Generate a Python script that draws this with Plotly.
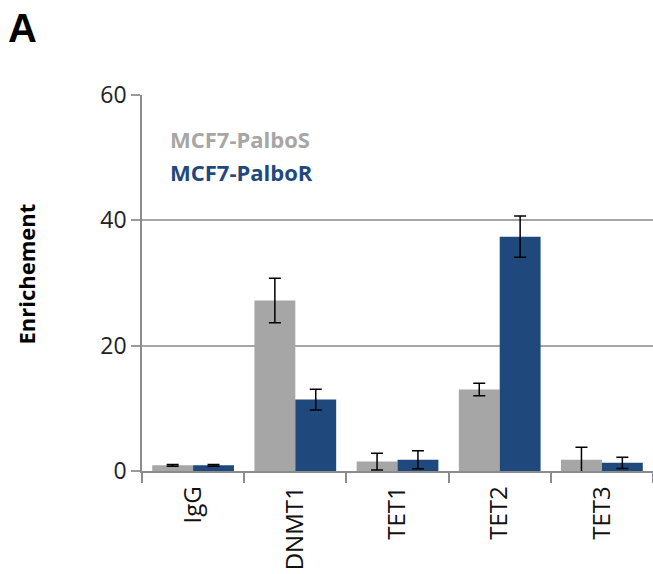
import plotly.graph_objects as go

categories = ["IgG", "DNMT1", "TET1", "TET2", "TET3"]
palbo_s = [0.9, 27.2, 1.5, 13.0, 1.8]
palbo_s_err = [0.15, 3.55, 1.35, 1.0, 2.0]
palbo_r = [0.9, 11.4, 1.8, 37.4, 1.3]
palbo_r_err = [0.15, 1.65, 1.43, 3.3, 0.9]
y_ticks = [0, 20, 40, 60]

GRAY = "#A6A6A6"
BLUE = "#1F497D"
FONT = "Open Sans"

# body margin is removed below, so figure pixels == page pixels
W, H = 653, 574
L, R, T, B = 142, 653, 95, 471  # plot box in page px

fig = go.Figure()
fig.add_trace(go.Bar(
    x=categories, y=palbo_s, name="MCF7-PalboS",
    marker=dict(color=GRAY, line=dict(width=0)),
    error_y=dict(type="data", array=palbo_s_err, color="black", thickness=1.5, width=6),
))
fig.add_trace(go.Bar(
    x=categories, y=palbo_r, name="MCF7-PalboR",
    marker=dict(color=BLUE, line=dict(width=0)),
    error_y=dict(type="data", array=palbo_r_err, color="black", thickness=1.5, width=6),
))

fig.update_layout(
    width=W, height=H,
    margin=dict(l=L, r=W - R, t=T, b=H - B, pad=0),
    paper_bgcolor="white", plot_bgcolor="white",
    barmode="group", bargap=0.2, bargroupgap=0,
    showlegend=False,
    font=dict(family=FONT, color="#222222"),
    xaxis=dict(
        type="category", tickson="boundaries", ticks="outside", ticklen=10,
        tickcolor="#8c8c8c", tickwidth=1.5,
        showline=True, linecolor="#8c8c8c", linewidth=1.5,
        tickangle=-90, tickfont=dict(size=24, family=FONT, color="#111111"),
        ticklabelstandoff=4,
        showgrid=False,
    ),
    yaxis=dict(
        range=[0, 60], tickvals=y_ticks, ticks="outside", ticklen=9,
        tickcolor="#9a9a9a", tickwidth=1.5,
        showline=True, linecolor="#8c8c8c", linewidth=1.5,
        showgrid=True, gridcolor="#a6a6a6", gridwidth=1.5,
        tickfont=dict(size=23, family=FONT, color="#222222"),
        zeroline=False,
    ),
)

def px(x):
    return (x - L) / (R - L)

def py(y):
    return (B - y) / (B - T)

fig.add_annotation(text="<b>A</b>", x=px(22.5), y=py(28), xref="paper", yref="paper",
                   xanchor="center", yanchor="middle", showarrow=False,
                   font=dict(size=40, family="Liberation Sans", color="black"))
fig.add_annotation(text="<b>Enrichement</b>", x=px(25.5), y=py(274), xref="paper", yref="paper",
                   xanchor="center", yanchor="middle", showarrow=False, textangle=-90,
                   font=dict(size=22, family=FONT, color="black"))
fig.add_annotation(text="<b>MCF7-PalboS</b>", x=px(168), y=py(139), xref="paper", yref="paper",
                   xanchor="left", yanchor="middle", showarrow=False,
                   font=dict(size=22, family=FONT, color=GRAY))
fig.add_annotation(text="<b>MCF7-PalboR</b>", x=px(168), y=py(172), xref="paper", yref="paper",
                   xanchor="left", yanchor="middle", showarrow=False,
                   font=dict(size=22, family=FONT, color=BLUE))

fig.write_html("out.html", config={"displayModeBar": False},
               post_script="document.body.style.margin='0';")
